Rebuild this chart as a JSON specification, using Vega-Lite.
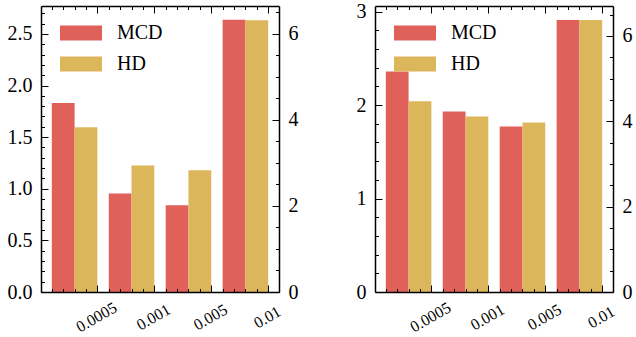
{
  "$schema": "https://vega.github.io/schema/vega-lite/v6.json",
  "padding": {"left": 7, "top": 1, "right": 5, "bottom": 5},
  "bounds": "flush",
  "spacing": 96,
  "background": "white",
  "config": {
    "view": {"stroke": null},
    "axis": {"grid": false, "labelFont": "Liberation Serif", "labelColor": "black", "tickColor": "black", "domainColor": "black", "domainWidth": 1.5, "tickWidth": 1, "labelFontSize": 20},
    "legend": {"labelFont": "Liberation Serif", "labelFontSize": 20, "labelColor": "black"}
  },
  "data": {"values": [
    {"panel": "a", "cat": "0.0005", "series": "MCD", "value": 1.83},
    {"panel": "a", "cat": "0.001", "series": "MCD", "value": 0.955},
    {"panel": "a", "cat": "0.005", "series": "MCD", "value": 0.839},
    {"panel": "a", "cat": "0.01", "series": "MCD", "value": 2.637},
    {"panel": "a", "cat": "0.0005", "series": "HD", "value": 3.83},
    {"panel": "a", "cat": "0.001", "series": "HD", "value": 2.94},
    {"panel": "a", "cat": "0.005", "series": "HD", "value": 2.83},
    {"panel": "a", "cat": "0.01", "series": "HD", "value": 6.32},
    {"panel": "b", "cat": "0.0005", "series": "MCD", "value": 2.36},
    {"panel": "b", "cat": "0.001", "series": "MCD", "value": 1.93},
    {"panel": "b", "cat": "0.005", "series": "MCD", "value": 1.77},
    {"panel": "b", "cat": "0.01", "series": "MCD", "value": 2.91},
    {"panel": "b", "cat": "0.0005", "series": "HD", "value": 4.47},
    {"panel": "b", "cat": "0.001", "series": "HD", "value": 4.11},
    {"panel": "b", "cat": "0.005", "series": "HD", "value": 3.97},
    {"panel": "b", "cat": "0.01", "series": "HD", "value": 6.37}
  ]},
  "resolve": {"scale": {"color": "independent"}, "legend": {"color": "independent"}},
  "hconcat": [
    {
      "width": 238, "height": 286,
      "transform": [{"filter": "datum.panel === 'a'"}],
      "layer": [
        {
          "transform": [{"filter": "datum.series === 'MCD'"}],
          "mark": {"type": "bar"},
          "encoding": {
            "x": {"field": "cat", "type": "nominal", "scale": {"domain": ["0.0005", "0.001", "0.005", "0.01"], "paddingInner": 0.2, "paddingOuter": 0.19}, "axis": {"orient": "bottom", "title": null, "domain": false, "ticks": false, "labelAngle": -30, "labelAlign": "center", "labelBaseline": "middle", "labelPadding": 25, "labelFontSize": 16, "labelOffset": 22, "labelOverlap": false, "labelFlush": false}},
            "xOffset": {"field": "series", "type": "nominal", "scale": {"domain": ["MCD", "HD"], "paddingInner": 0, "paddingOuter": 0}},
            "y": {"field": "value", "type": "quantitative", "stack": null, "scale": {"domain": [0, 2.77], "nice": false, "zero": true}, "axis": {"orient": "left", "title": null, "domain": false, "ticks": false, "values": [0, 0.5, 1, 1.5, 2, 2.5], "format": ".1f", "labelPadding": 9}},
            "color": {"field": "series", "type": "nominal", "scale": {"domain": ["MCD", "HD"], "range": ["#E0605A", "#DCB65A"]}, "legend": {"orient": "none", "legendX": 19, "legendY": 6, "title": null, "padding": 0, "symbolType": "M-1,-0.357H1V0.357H-1Z", "symbolSize": 1764, "symbolStrokeWidth": 0, "symbolOpacity": 1, "labelOffset": 15, "rowPadding": -15}}
          }
        },
        {
          "transform": [{"filter": "datum.series === 'HD'"}],
          "mark": {"type": "bar"},
          "encoding": {
            "x": {"field": "cat", "type": "nominal", "scale": {"domain": ["0.0005", "0.001", "0.005", "0.01"], "paddingInner": 0.2, "paddingOuter": 0.19}, "axis": null},
            "xOffset": {"field": "series", "type": "nominal", "scale": {"domain": ["MCD", "HD"], "paddingInner": 0, "paddingOuter": 0}},
            "y": {"field": "value", "type": "quantitative", "stack": null, "scale": {"domain": [0, 6.65], "nice": false, "zero": true}, "axis": {"orient": "right", "title": null, "domain": false, "ticks": false, "values": [0, 2, 4, 6], "format": "d", "labelPadding": 9}},
            "color": {"field": "series", "type": "nominal", "scale": {"domain": ["MCD", "HD"], "range": ["#E0605A", "#DCB65A"]}, "legend": {"orient": "none", "legendX": 19, "legendY": 6, "title": null, "padding": 0, "symbolType": "M-1,-0.357H1V0.357H-1Z", "symbolSize": 1764, "symbolStrokeWidth": 0, "symbolOpacity": 1, "labelOffset": 15, "rowPadding": -15}}
          }
        },
        {
          "mark": {"type": "point", "opacity": 0},
          "encoding": {
            "x": {"datum": 0, "type": "quantitative", "scale": {"domain": [-0.59, 3.59], "nice": false, "zero": false}, "axis": {"orient": "bottom", "title": null, "labels": false, "domain": true, "values": [0.4, 1.4, 2.4, 3.4], "tickSize": -7, "zindex": 2}},
            "y": {"datum": 0, "type": "quantitative", "scale": {"domain": [0, 2.77], "nice": false, "zero": true}, "axis": {"orient": "left", "title": null, "labels": false, "domain": true, "values": [0, 0.5, 1, 1.5, 2, 2.5], "tickSize": -7, "zindex": 2}}
          }
        },
        {
          "mark": {"type": "point", "opacity": 0},
          "encoding": {
            "x": {"datum": 0, "type": "quantitative", "scale": {"domain": [-0.59, 3.59], "nice": false, "zero": false}, "axis": {"orient": "bottom", "title": null, "labels": false, "domain": false, "values": [-0.4, -0.2, 0, 0.2, 0.4, 0.6, 0.8, 1, 1.2, 1.4, 1.6, 1.8, 2, 2.2, 2.4, 2.6, 2.8, 3, 3.2, 3.4], "tickSize": -3.5, "zindex": 2}},
            "y": {"datum": 0, "type": "quantitative", "scale": {"domain": [0, 2.77], "nice": false, "zero": true}, "axis": {"orient": "left", "title": null, "labels": false, "domain": false, "values": [0, 0.1, 0.2, 0.3, 0.4, 0.5, 0.6, 0.7, 0.8, 0.9, 1, 1.1, 1.2, 1.3, 1.4, 1.5, 1.6, 1.7, 1.8, 1.9, 2, 2.1, 2.2, 2.3, 2.4, 2.5, 2.6, 2.7], "tickSize": -3.5, "zindex": 2}}
          }
        },
        {
          "mark": {"type": "point", "opacity": 0},
          "encoding": {
            "x": {"datum": 0, "type": "quantitative", "scale": {"domain": [-0.59, 3.59], "nice": false, "zero": false}, "axis": {"orient": "top", "title": null, "labels": false, "domain": true, "values": [0.4, 1.4, 2.4, 3.4], "tickSize": -7, "zindex": 2}},
            "y": {"datum": 0, "type": "quantitative", "scale": {"domain": [0, 6.65], "nice": false, "zero": true}, "axis": {"orient": "right", "title": null, "labels": false, "domain": true, "values": [0, 2, 4, 6], "tickSize": -7, "zindex": 2}}
          }
        },
        {
          "mark": {"type": "point", "opacity": 0},
          "encoding": {
            "x": {"datum": 0, "type": "quantitative", "scale": {"domain": [-0.59, 3.59], "nice": false, "zero": false}, "axis": {"orient": "top", "title": null, "labels": false, "domain": false, "values": [-0.4, -0.2, 0, 0.2, 0.4, 0.6, 0.8, 1, 1.2, 1.4, 1.6, 1.8, 2, 2.2, 2.4, 2.6, 2.8, 3, 3.2, 3.4], "tickSize": -3.5, "zindex": 2}},
            "y": {"datum": 0, "type": "quantitative", "scale": {"domain": [0, 6.65], "nice": false, "zero": true}, "axis": {"orient": "right", "title": null, "labels": false, "domain": false, "values": [0, 0.5, 1, 1.5, 2, 2.5, 3, 3.5, 4, 4.5, 5, 5.5, 6, 6.5], "tickSize": -3.5, "zindex": 2}}
          }
        }
      ],
      "resolve": {"scale": {"x": "independent", "y": "independent", "xOffset": "independent"}, "axis": {"x": "independent", "y": "independent"}}
    },
    {
      "width": 238, "height": 286,
      "transform": [{"filter": "datum.panel === 'b'"}],
      "layer": [
        {
          "transform": [{"filter": "datum.series === 'MCD'"}],
          "mark": {"type": "bar"},
          "encoding": {
            "x": {"field": "cat", "type": "nominal", "scale": {"domain": ["0.0005", "0.001", "0.005", "0.01"], "paddingInner": 0.2, "paddingOuter": 0.19}, "axis": {"orient": "bottom", "title": null, "domain": false, "ticks": false, "labelAngle": -30, "labelAlign": "center", "labelBaseline": "middle", "labelPadding": 25, "labelFontSize": 16, "labelOffset": 22, "labelOverlap": false, "labelFlush": false}},
            "xOffset": {"field": "series", "type": "nominal", "scale": {"domain": ["MCD", "HD"], "paddingInner": 0, "paddingOuter": 0}},
            "y": {"field": "value", "type": "quantitative", "stack": null, "scale": {"domain": [0, 3.06], "nice": false, "zero": true}, "axis": {"orient": "left", "title": null, "domain": false, "ticks": false, "values": [0, 1, 2, 3], "format": "d", "labelPadding": 9}},
            "color": {"field": "series", "type": "nominal", "scale": {"domain": ["MCD", "HD"], "range": ["#E0605A", "#DCB65A"]}, "legend": {"orient": "none", "legendX": 19, "legendY": 6, "title": null, "padding": 0, "symbolType": "M-1,-0.357H1V0.357H-1Z", "symbolSize": 1764, "symbolStrokeWidth": 0, "symbolOpacity": 1, "labelOffset": 15, "rowPadding": -15}}
          }
        },
        {
          "transform": [{"filter": "datum.series === 'HD'"}],
          "mark": {"type": "bar"},
          "encoding": {
            "x": {"field": "cat", "type": "nominal", "scale": {"domain": ["0.0005", "0.001", "0.005", "0.01"], "paddingInner": 0.2, "paddingOuter": 0.19}, "axis": null},
            "xOffset": {"field": "series", "type": "nominal", "scale": {"domain": ["MCD", "HD"], "paddingInner": 0, "paddingOuter": 0}},
            "y": {"field": "value", "type": "quantitative", "stack": null, "scale": {"domain": [0, 6.7], "nice": false, "zero": true}, "axis": {"orient": "right", "title": null, "domain": false, "ticks": false, "values": [0, 2, 4, 6], "format": "d", "labelPadding": 9}},
            "color": {"field": "series", "type": "nominal", "scale": {"domain": ["MCD", "HD"], "range": ["#E0605A", "#DCB65A"]}, "legend": {"orient": "none", "legendX": 19, "legendY": 6, "title": null, "padding": 0, "symbolType": "M-1,-0.357H1V0.357H-1Z", "symbolSize": 1764, "symbolStrokeWidth": 0, "symbolOpacity": 1, "labelOffset": 15, "rowPadding": -15}}
          }
        },
        {
          "mark": {"type": "point", "opacity": 0},
          "encoding": {
            "x": {"datum": 0, "type": "quantitative", "scale": {"domain": [-0.59, 3.59], "nice": false, "zero": false}, "axis": {"orient": "bottom", "title": null, "labels": false, "domain": true, "values": [0.4, 1.4, 2.4, 3.4], "tickSize": -7, "zindex": 2}},
            "y": {"datum": 0, "type": "quantitative", "scale": {"domain": [0, 3.06], "nice": false, "zero": true}, "axis": {"orient": "left", "title": null, "labels": false, "domain": true, "values": [0, 1, 2, 3], "tickSize": -7, "zindex": 2}}
          }
        },
        {
          "mark": {"type": "point", "opacity": 0},
          "encoding": {
            "x": {"datum": 0, "type": "quantitative", "scale": {"domain": [-0.59, 3.59], "nice": false, "zero": false}, "axis": {"orient": "bottom", "title": null, "labels": false, "domain": false, "values": [-0.4, -0.2, 0, 0.2, 0.4, 0.6, 0.8, 1, 1.2, 1.4, 1.6, 1.8, 2, 2.2, 2.4, 2.6, 2.8, 3, 3.2, 3.4], "tickSize": -3.5, "zindex": 2}},
            "y": {"datum": 0, "type": "quantitative", "scale": {"domain": [0, 3.06], "nice": false, "zero": true}, "axis": {"orient": "left", "title": null, "labels": false, "domain": false, "values": [0, 0.2, 0.4, 0.6, 0.8, 1, 1.2, 1.4, 1.6, 1.8, 2, 2.2, 2.4, 2.6, 2.8, 3], "tickSize": -3.5, "zindex": 2}}
          }
        },
        {
          "mark": {"type": "point", "opacity": 0},
          "encoding": {
            "x": {"datum": 0, "type": "quantitative", "scale": {"domain": [-0.59, 3.59], "nice": false, "zero": false}, "axis": {"orient": "top", "title": null, "labels": false, "domain": true, "values": [0.4, 1.4, 2.4, 3.4], "tickSize": -7, "zindex": 2}},
            "y": {"datum": 0, "type": "quantitative", "scale": {"domain": [0, 6.7], "nice": false, "zero": true}, "axis": {"orient": "right", "title": null, "labels": false, "domain": true, "values": [0, 2, 4, 6], "tickSize": -7, "zindex": 2}}
          }
        },
        {
          "mark": {"type": "point", "opacity": 0},
          "encoding": {
            "x": {"datum": 0, "type": "quantitative", "scale": {"domain": [-0.59, 3.59], "nice": false, "zero": false}, "axis": {"orient": "top", "title": null, "labels": false, "domain": false, "values": [-0.4, -0.2, 0, 0.2, 0.4, 0.6, 0.8, 1, 1.2, 1.4, 1.6, 1.8, 2, 2.2, 2.4, 2.6, 2.8, 3, 3.2, 3.4], "tickSize": -3.5, "zindex": 2}},
            "y": {"datum": 0, "type": "quantitative", "scale": {"domain": [0, 6.7], "nice": false, "zero": true}, "axis": {"orient": "right", "title": null, "labels": false, "domain": false, "values": [0, 0.5, 1, 1.5, 2, 2.5, 3, 3.5, 4, 4.5, 5, 5.5, 6, 6.5], "tickSize": -3.5, "zindex": 2}}
          }
        }
      ],
      "resolve": {"scale": {"x": "independent", "y": "independent", "xOffset": "independent"}, "axis": {"x": "independent", "y": "independent"}}
    }
  ]
}
